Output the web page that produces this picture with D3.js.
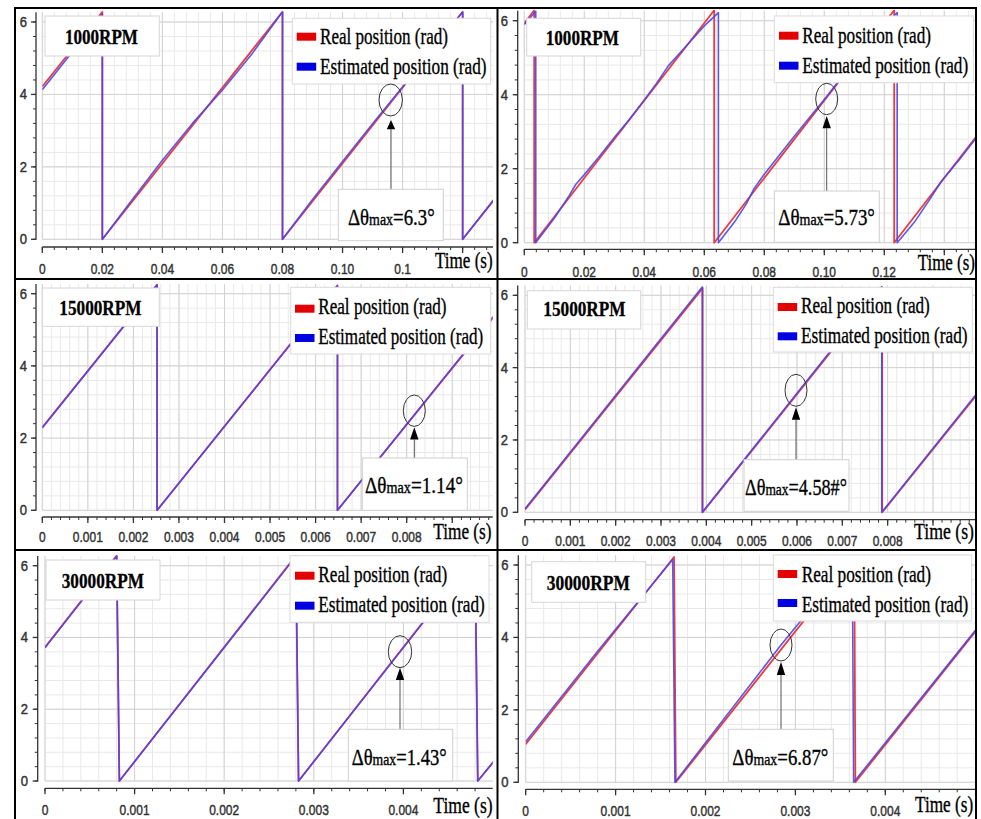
<!DOCTYPE html>
<html><head><meta charset="utf-8">
<script src="https://cdn.jsdelivr.net/npm/d3@7"></script>
<style>body{margin:0;background:#fff;} svg{display:block}</style>
</head><body>
<script>
// ================= DATA =================
const yTicks = [0, 2, 4, 6];
const seriesNames = ["Real position (rad)", "Estimated position (rad)"];
const speedLabels = ["1000RPM", "1000RPM", "15000RPM", "15000RPM", "30000RPM", "30000RPM"];
const errorValues = ["6.3", "5.73", "1.14", "4.58#", "1.43", "6.87"];

const xTicks1000 = [0, 0.02, 0.04, 0.06, 0.08, 0.10, 0.12];
const xLabels1000a = ["0", "0.02", "0.04", "0.06", "0.08", "0.10", "0.1"];
const xLabels1000b = ["0", "0.02", "0.04", "0.06", "0.08", "0.10", "0.12"];
const xTicks15000 = [0, 0.001, 0.002, 0.003, 0.004, 0.005, 0.006, 0.007, 0.008];
const xLabels15000 = ["0", "0.001", "0.002", "0.003", "0.004", "0.005", "0.006", "0.007", "0.008"];
const xTicks30000 = [0, 0.001, 0.002, 0.003, 0.004];
const xLabels30000 = ["0", "0.001", "0.002", "0.003", "0.004"];

// [time (s), position (rad)]
const real1000a = [[0,4.22],[0.0200,6.283],[0.0200,0],[0.0800,6.283],[0.0800,0],[0.1400,6.283],[0.1400,0],[0.1505,1.09]];
const est1000a  = [[0,4.13],[0.0200,6.22],[0.0200,0],[0.0300,1.10],[0.0400,2.18],[0.0500,3.20],[0.0600,4.12],[0.0700,5.14],[0.0800,6.283],
                   [0.0800,0],[0.0900,1.10],[0.1000,2.15],[0.1100,3.19],[0.1165,3.85],[0.1300,5.22],[0.1400,6.283],[0.1400,0],[0.1505,1.11]];

const real1000b = [[0,5.93],[0.0033,6.283],[0.0033,0],[0.0633,6.283],[0.0633,0],[0.1233,6.283],[0.1233,0],[0.1505,2.85]];
const est1000b  = [[0,5.90],[0.0038,6.25],[0.0038,0],[0.0100,0.66],[0.0150,1.28],[0.0172,1.58],[0.0200,1.84],[0.0250,2.33],[0.0300,2.84],
                   [0.0350,3.33],[0.0400,3.86],[0.0440,4.30],[0.0480,4.78],[0.0520,5.14],[0.0560,5.50],[0.0600,5.86],[0.0647,6.22],
                   [0.0647,0],[0.0700,0.55],[0.0740,1.05],[0.0765,1.45],[0.0800,1.85],[0.0900,2.88],[0.1008,3.95],[0.1060,4.50],
                   [0.1150,5.41],[0.1243,6.22],[0.1243,0],[0.1300,0.55],[0.1350,1.15],[0.1390,1.66],[0.1450,2.24],[0.1505,2.82]];

const real15000a = [[0,2.30],[0.00252,6.25],[0.00252,0],[0.00648,6.23],[0.00648,0],[0.00995,5.42]];
const est15000a  = [[0,2.28],[0.00252,6.24],[0.00252,0],[0.00648,6.22],[0.00648,0],[0.00995,5.44]];

const real15000b = [[0,0.07],[0.00392,6.20],[0.00392,0],[0.00788,6.22],[0.00788,0],[0.00995,3.22]];
const est15000b  = [[0,0.10],[0.00391,6.23],[0.00391,0],[0.00787,6.24],[0.00787,0],[0.00995,3.26]];

const real30000a = [[0,3.73],[0.00080,6.28],[0.00083,0],[0.00280,6.28],[0.00283,0],[0.00480,6.28],[0.00483,0],[0.00502,0.57]];
const est30000a  = [[0,3.71],[0.00080,6.26],[0.00083,0],[0.00280,6.26],[0.00283,0],[0.00480,6.26],[0.00483,0],[0.00502,0.59]];

const real30000b = [[0,1.05],[0.00165,6.22],[0.00167,0],[0.003655,6.22],[0.003667,0],[0.00502,4.22]];
const est30000b  = [[0,1.12],[0.0008,3.62],[0.001635,6.15],[0.00166,0],[0.00284,3.79],[0.003633,6.20],[0.003648,0],[0.00502,4.25]];

// ================= LAYOUT (positions only) =================
const panels = [
 {real:real1000a, est:est1000a, ticks:xTicks1000, labels:xLabels1000a, step:0.02,
  x0:42.3, px:60.05, right:493, y0:239.3, y6:22, yAxisX:36, xAxisY:247, labBase:274, yLabRight:27,
  rpmBox:[45,16,159.3,56], rpmText:[65,44,73],
  legBox:[292.3,18.3,490.7,84], swX:296.7, swY:[32.7,62.7], legX:320, legBase:[44.3,74], legW:[128,166.7],
  circle:[390.7,100,11.7,16], arrow:[391,120,129.3,189.3],
  errBox:[338.3,189.3,443.3,240.7], errText:[348,225,86.7], timeText:[435,268.3,57.7]},
 {real:real1000b, est:est1000b, ticks:xTicks1000, labels:xLabels1000b, step:0.02,
  x0:524.3, px:60, right:975, y0:242.7, y6:20.7, yAxisX:517.7, xAxisY:249.3, labBase:277, yLabRight:508,
  rpmBox:[526.7,18.3,640.7,56], rpmText:[545.7,45,73.3],
  legBox:[774.3,16,973.3,82.7], swX:779, swY:[31.7,61.7], legX:802.3, legBase:[43.3,73.3], legW:[128.7,166],
  circle:[826.7,99,11,15.7], arrow:[826.7,116,128.3,191],
  errBox:[774.3,191,879.3,242.3], errText:[778.3,225,96.7], timeText:[917.7,270,57.3]},
 {real:real15000a, est:est15000a, ticks:xTicks15000, labels:xLabels15000, step:0.001,
  x0:42.3, px:45.55, right:492.7, y0:510.3, y6:293.7, yAxisX:36, xAxisY:517, labBase:542, yLabRight:27,
  rpmBox:[42.3,288,159.3,326.3], rpmText:[59.3,314.7,82.3],
  legBox:[290.7,287.3,490.7,354], swX:295, swY:[304.7,334], legX:318.3, legBase:[314,344], legW:[128.3,165],
  circle:[414.3,410.7,11,15.7], arrow:[414.3,427.3,439.5,458],
  errBox:[362.3,458,467.3,510.3], errText:[365,493,98], timeText:[433.3,539,58.3]},
 {real:real15000b, est:est15000b, ticks:xTicks15000, labels:xLabels15000, step:0.001,
  x0:525, px:45.33, right:975, y0:512.3, y6:295.3, yAxisX:517.7, xAxisY:519.7, labBase:546, yLabRight:508,
  rpmBox:[527.3,290.7,640.7,329], rpmText:[543.3,316.3,82.3],
  legBox:[773.3,287.3,972.3,352], swX:777.7, swY:[303,332.3], legX:801, legBase:[313,343], legW:[129,166.7],
  circle:[796,390.3,11,16], arrow:[796,407.3,419.7,459.7],
  errBox:[744,459.7,849,511.3], errText:[745,494.7,102], timeText:[914,539,60]},
 {real:real30000a, est:est30000a, ticks:xTicks30000, labels:xLabels30000, step:0.001,
  x0:45, px:89.6, right:492.7, y0:781, y6:565.7, yAxisX:37.7, xAxisY:788.3, labBase:815, yLabRight:28,
  rpmBox:[46,560,160,600], rpmText:[61.7,587.7,82.3],
  legBox:[290,555.7,489,622.3], swX:295, swY:[571.7,601.7], legX:318.3, legBase:[582.3,612.3], legW:[129,166.7],
  circle:[400,651.7,11.7,16], arrow:[400,667.7,680,729.3],
  errBox:[348.3,729.3,452.7,781], errText:[351.7,765,95], timeText:[433.3,813.3,59.3]},
 {real:real30000b, est:est30000b, ticks:xTicks30000, labels:xLabels30000, step:0.001,
  x0:525.7, px:89.9, right:975, y0:782.3, y6:565, yAxisX:518.3, xAxisY:789.3, labBase:816, yLabRight:508.5,
  rpmBox:[531.7,561.7,645.7,602.3], rpmText:[546.7,590,83.3],
  legBox:[773.3,555,971.7,621], swX:777.7, swY:[570,599], legX:801.7, legBase:[581.7,611.7], legW:[129.3,166.7],
  circle:[781,645,11,16], arrow:[781,661.7,675,729.3],
  errBox:[728.3,729.3,833.3,781], errText:[732.3,765,96], timeText:[915,811.7,58.3]}
];

const SERIF = "'Liberation Serif','Times New Roman',serif";
const SANS = "'Liberation Sans',Arial,sans-serif";
const RED = "#f03a3a", BLUE = "#4646f2";

const svg = d3.select("body").append("svg").attr("width", 981).attr("height", 819);
svg.append("rect").attr("width", 981).attr("height", 819).attr("fill", "#fff");

function fitText(g, x, base, width, build, size, weight) {
  const t = g.append("text").attr("font-family", SERIF).attr("font-size", size)
    .attr("font-weight", weight || "normal").attr("fill", "#000")
    .attr("stroke", "#000").attr("stroke-width", weight ? 0.3 : 0.35);
  build(t);
  const w = t.node().getComputedTextLength();
  t.attr("transform", `translate(${x},${base}) scale(${width / w},1)`);
  return t;
}

panels.forEach((p, i) => {
  const g = svg.append("g");
  const x = d3.scaleLinear().domain([0, p.step]).range([p.x0, p.x0 + p.px]);
  const y = d3.scaleLinear().domain([0, 6]).range([p.y0, p.y6]);
  const tMax = x.invert(p.right);
  const top = y(6.27);

  // grid
  const minorX = d3.range(0, tMax + 1e-12, p.step / 5);
  const minorY = d3.range(0, 6.27, 0.4);
  const grid = g.append("g");
  grid.selectAll(".mx").data(minorX).join("line")
    .attr("x1", d => x(d)).attr("x2", d => x(d)).attr("y1", p.y0).attr("y2", top)
    .attr("stroke", "#e9e9e9").attr("stroke-width", 1);
  grid.selectAll(".my").data(minorY).join("line")
    .attr("x1", p.x0).attr("x2", p.right).attr("y1", d => y(d)).attr("y2", d => y(d))
    .attr("stroke", "#e9e9e9").attr("stroke-width", 1);
  const majorX = d3.range(0, tMax + 1e-12, p.step);
  grid.selectAll(".Mx").data(majorX).join("line")
    .attr("x1", d => x(d)).attr("x2", d => x(d)).attr("y1", p.y0).attr("y2", top)
    .attr("stroke", "#d2d2d2").attr("stroke-width", 1);
  grid.selectAll(".My").data(yTicks).join("line")
    .attr("x1", p.x0).attr("x2", p.right).attr("y1", d => y(d)).attr("y2", d => y(d))
    .attr("stroke", "#d2d2d2").attr("stroke-width", 1);

  // y axis
  const ax = g.append("g").attr("stroke", "#333");
  ax.append("line").attr("x1", p.yAxisX).attr("x2", p.yAxisX).attr("y1", p.y0 + 0.5).attr("y2", top).attr("stroke-width", 1.3);
  ax.selectAll(".ymt").data(minorY).join("line")
    .attr("x1", p.yAxisX - 3).attr("x2", p.yAxisX).attr("y1", d => y(d)).attr("y2", d => y(d)).attr("stroke-width", 1);
  ax.selectAll(".yMt").data(yTicks).join("line")
    .attr("x1", p.yAxisX - 5).attr("x2", p.yAxisX).attr("y1", d => y(d)).attr("y2", d => y(d)).attr("stroke-width", 1.3);
  g.selectAll(".yl").data(yTicks).join("text")
    .attr("transform", d => `translate(${p.yLabRight},${y(d) + 5}) scale(0.9,1)`)
    .attr("text-anchor", "end").attr("font-family", SANS).attr("font-size", 14.5).attr("fill", "#333")
    .attr("stroke", "#333").attr("stroke-width", 0.45)
    .text(d => d);

  // x axis
  ax.append("line").attr("x1", p.x0).attr("x2", p.right).attr("y1", p.xAxisY).attr("y2", p.xAxisY).attr("stroke-width", 1.3);
  ax.selectAll(".xmt").data(minorX).join("line")
    .attr("x1", d => x(d)).attr("x2", d => x(d)).attr("y1", p.xAxisY).attr("y2", p.xAxisY + 3).attr("stroke-width", 1);
  ax.selectAll(".xMt").data(majorX).join("line")
    .attr("x1", d => x(d)).attr("x2", d => x(d)).attr("y1", p.xAxisY).attr("y2", p.xAxisY + 6).attr("stroke-width", 1.3);
  g.selectAll(".xl").data(p.ticks).join("text")
    .attr("transform", d => `translate(${x(d)},${p.labBase}) scale(0.8,1)`)
    .attr("text-anchor", "middle").attr("font-family", SANS).attr("font-size", 15).attr("fill", "#333")
    .attr("stroke", "#333").attr("stroke-width", 0.45)
    .text((d, k) => p.labels[k]);

  // lines
  const clipId = "clip" + i;
  svg.append("clipPath").attr("id", clipId).append("rect")
    .attr("x", p.x0).attr("y", top - 1).attr("width", p.right - p.x0).attr("height", p.y0 - top + 3);
  const line = d3.line().x(d => x(d[0])).y(d => y(d[1]));
  const lg = g.append("g").attr("clip-path", `url(#${clipId})`);
  lg.append("path").datum(p.real).attr("d", line).attr("fill", "none")
    .attr("stroke", RED).attr("stroke-width", 1.8).attr("stroke-linejoin", "round");
  lg.append("path").datum(p.est).attr("d", line).attr("fill", "none")
    .attr("stroke", BLUE).attr("stroke-width", 1.6).attr("stroke-opacity", 0.9).attr("stroke-linejoin", "round");

  // RPM box
  const rb = p.rpmBox;
  g.append("rect").attr("x", rb[0]).attr("y", rb[1]).attr("width", rb[2] - rb[0]).attr("height", rb[3] - rb[1])
    .attr("fill", "#fff").attr("stroke", "#d6d6d6");
  fitText(g, p.rpmText[0], p.rpmText[1], p.rpmText[2], t => t.text(speedLabels[i]), 22, "bold");

  // legend
  const lb = p.legBox;
  g.append("rect").attr("x", lb[0]).attr("y", lb[1]).attr("width", lb[2] - lb[0]).attr("height", lb[3] - lb[1])
    .attr("fill", "#fff").attr("stroke", "#dadada");
  [["#e30000", 0], ["#0000e0", 1]].forEach(([c, k]) => {
    g.append("rect").attr("x", p.swX).attr("y", p.swY[k]).attr("width", 19.5).attr("height", 8).attr("fill", c);
    fitText(g, p.legX, p.legBase[k], p.legW[k], t => t.text(seriesNames[k]), 23);
  });

  // annotation
  const c = p.circle;
  g.append("ellipse").attr("cx", c[0]).attr("cy", c[1]).attr("rx", c[2]).attr("ry", c[3])
    .attr("fill", "none").attr("stroke", "#333").attr("stroke-width", 1);
  const a = p.arrow;
  g.append("line").attr("x1", a[0]).attr("x2", a[0]).attr("y1", a[2]).attr("y2", a[3])
    .attr("stroke", "#555").attr("stroke-width", 1);
  g.append("path").attr("d", `M${a[0]},${a[1]} L${a[0] - 4.2},${a[2]} L${a[0] + 4.2},${a[2]} Z`).attr("fill", "#000");
  const eb = p.errBox;
  g.append("rect").attr("x", eb[0]).attr("y", eb[1]).attr("width", eb[2] - eb[0]).attr("height", eb[3] - eb[1])
    .attr("fill", "#fff").attr("stroke", "#d0d0d0");
  fitText(g, p.errText[0], p.errText[1], p.errText[2], t => {
    t.append("tspan").text("Δθ");
    t.append("tspan").attr("font-size", 17).text("max");
    t.append("tspan").text("=" + errorValues[i] + "°");
  }, 23);

  fitText(g, p.timeText[0], p.timeText[1], p.timeText[2], t => t.text("Time (s)"), 23);
});

// frame
const frame = svg.append("g").attr("stroke", "#000").attr("stroke-width", 2).attr("fill", "none");
frame.append("rect").attr("x", 15).attr("y", 8).attr("width", 961).attr("height", 830);
frame.append("line").attr("x1", 497.5).attr("x2", 497.5).attr("y1", 8).attr("y2", 819);
frame.append("line").attr("x1", 15).attr("x2", 976).attr("y1", 279).attr("y2", 279);
frame.append("line").attr("x1", 15).attr("x2", 976).attr("y1", 550).attr("y2", 550);
</script>
</body></html>
